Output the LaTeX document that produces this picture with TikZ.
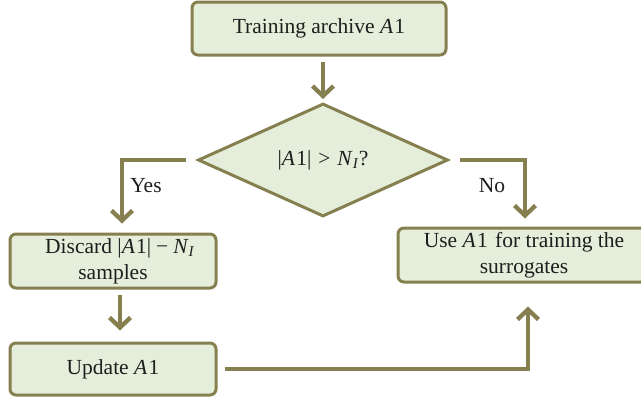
\documentclass[tikz,border=0pt]{standalone}
\usepackage{fontspec}
\setmainfont{Liberation Serif}
\usetikzlibrary{shapes.geometric,arrows.meta,calc}
\definecolor{olive}{RGB}{134,127,80}
\definecolor{boxfill}{RGB}{229,238,218}
\definecolor{txt}{RGB}{30,30,30}
\tikzset{
  box/.style={draw=olive, line width=3pt, fill=boxfill, rounded corners=6pt,
    align=center, text=txt, font=\fontsize{21.5}{26}\selectfont, inner sep=0pt},
  decision/.style={draw=olive, line width=3pt, fill=boxfill, diamond,
    minimum width=250pt, minimum height=113pt, inner sep=0pt, text=txt,
    font=\fontsize{21.5}{26}\selectfont},
  arr/.style={draw=olive, line width=4.3pt, -{Straight Barb[length=10pt,width=21pt]}},
  lbl/.style={text=txt, font=\fontsize{21.5}{26}\selectfont}
}
\newcommand{\mA}{\textit{A}\kern1.2pt 1}
\newcommand{\mN}{\textit{N}\textsubscript{\textit{I}}}
\begin{document}
\begin{tikzpicture}[x=1pt,y=-1pt]
\useasboundingbox (0,0) rectangle (641,399);
\node[box, minimum width=254pt, minimum height=53pt] (train) at (319,28.5) {Training archive \mA};
\node[decision] (dec) at (323,160) {|\mA|\kern7pt>\kern7pt\mN?};
\node[box, minimum width=206pt, minimum height=54pt] (disc) at (113,261) {\hspace*{14pt}Discard |\mA|\kern5pt−\kern5pt\mN\\samples};
\node[box, minimum width=206pt, minimum height=52pt] (upd) at (113,369) {Update \mA};
\node[box, minimum width=252pt, minimum height=54pt] (use) at (524,255) {Use \mA\ \kern2pt for training the\\surrogates};
\node[lbl] (yes) at (146,186) {Yes};
\node[lbl] (no) at (492,186) {No};
\draw[arr] ([yshift=-5pt]train.south -| dec.north) -- ([yshift=3pt]dec.north);
\draw[arr] ([xshift=-11pt]dec.west) -| ([xshift=9pt,yshift=9pt]disc.north);
\draw[arr] ([xshift=10pt]dec.east) -| ([xshift=1pt,yshift=8pt]use.north);
\draw[arr] ([xshift=7pt,yshift=-5pt]disc.south) -- ([xshift=7pt,yshift=11pt]upd.north);
\draw[arr] ([xshift=7pt]upd.east) -| ([xshift=4pt,yshift=-23pt]use.south);
\end{tikzpicture}
\end{document}
